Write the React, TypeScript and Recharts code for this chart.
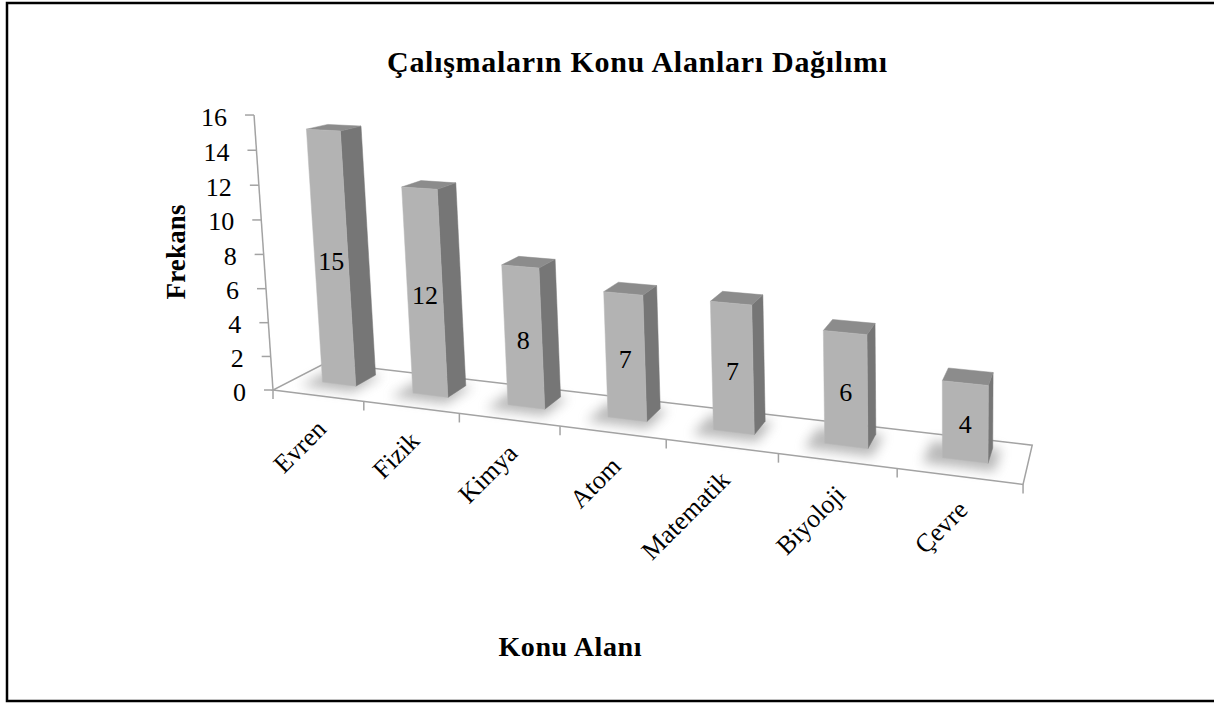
import React from 'react';
import { BarChart, Bar, XAxis, YAxis } from 'recharts';

const categories = ['Evren', 'Fizik', 'Kimya', 'Atom', 'Matematik', 'Biyoloji', 'Çevre'];
const frequencies = [15, 12, 8, 7, 7, 6, 4];
const valueTicks = [0, 2, 4, 6, 8, 10, 12, 14, 16];
const chartTitle = 'Çalışmaların Konu Alanları Dağılımı';
const xTitle = 'Konu Alanı';
const yTitle = 'Frekans';

const data = categories.map((name, i) => ({ name, value: frequencies[i] }));

const W = 1214;
const H = 704;
const PLOT = { left: 273, right: 1023, top: 115, bottom: 390 };
const Y_AXIS_W = 40;
const X_AXIS_H = 30;
const Y_MAX = 16;
const FONT = '"Liberation Serif", "Times New Roman", serif';
const LINE = '#a3a3a3';

// perspective projection of (u along categories 0..1, h value units, d depth 0..1)
const ORIGIN = [273, 390];
const KU = -0.1735, VPU = [-3300, -60];
const KH = -0.001716, VPH = [945, 10130];
const KD = 0.0643, VPD = [1150, -60];
function project(u: number, h: number, d: number): [number, number] {
  const den = 1 + KU * u + KH * h + KD * d;
  return [
    (ORIGIN[0] + KU * u * VPU[0] + KH * h * VPH[0] + KD * d * VPD[0]) / den,
    (ORIGIN[1] + KU * u * VPU[1] + KH * h * VPH[1] + KD * d * VPD[1]) / den,
  ];
}
const pts = (arr: [number, number][]) => arr.map((p) => `${p[0].toFixed(2)},${p[1].toFixed(2)}`).join(' ');

const D0 = 0.4;
const D1 = 0.8;

function Bar3D(props: any) {
  const { x, y, width, payload } = props;
  const plotW = PLOT.right - PLOT.left;
  const plotH = PLOT.bottom - PLOT.top;
  const u0 = (x - PLOT.left) / plotW;
  const u1 = (x + width - PLOT.left) / plotW;
  const h = ((PLOT.bottom - y) / plotH) * Y_MAX;
  const uc = (u0 + u1) / 2;
  const front = pts([project(u0, 0, D0), project(u1, 0, D0), project(u1, h, D0), project(u0, h, D0)]);
  const side = pts([project(u1, 0, D0), project(u1, 0, D1), project(u1, h, D1), project(u1, h, D0)]);
  const top = pts([project(u0, h, D0), project(u1, h, D0), project(u1, h, D1), project(u0, h, D1)]);
  const shadow = pts([
    project(u0 - 0.02, 0, D0 - 0.18),
    project(u1 + 0.01, 0, D0 - 0.18),
    project(u1 + 0.01, 0, D1),
    project(u0 - 0.02, 0, D1),
  ]);
  const [lx, ly] = project(uc, h / 2, D0);
  const val = payload && payload.value !== undefined ? payload.value : props.value;
  return (
    <g>
      <polygon points={shadow} fill="#808080" opacity={0.55} filter="url(#barShadow)" />
      <polygon points={side} fill="#767676" stroke="#767676" strokeWidth={0.5} />
      <polygon points={top} fill="#8c8c8c" stroke="#8c8c8c" strokeWidth={0.5} />
      <polygon points={front} fill="#b3b3b3" stroke="#b8b8b8" strokeWidth={0.5} />
      <text x={lx} y={ly + 3} textAnchor="middle" dominantBaseline="central" fontFamily={FONT} fontSize={26} fill="#000">
        {val}
      </text>
    </g>
  );
}

function ValueTick(props: any) {
  const v = props.payload ? props.payload.value : 0;
  const [x, y] = project(0, v, 0);
  return (
    <g>
      <line x1={x - 9} y1={y} x2={x} y2={y} stroke={LINE} strokeWidth={1.5} />
      <text x={x - 27} y={y + 2} textAnchor="end" dominantBaseline="central" fontFamily={FONT} fontSize={26} fill="#000">
        {v}
      </text>
    </g>
  );
}

function CategoryTick(props: any) {
  const plotW = PLOT.right - PLOT.left;
  const u = (props.x - PLOT.left) / plotW;
  const [px, py] = project(u, 0, 0);
  const ax = px + 10;
  const ay = py + 35;
  return (
    <text
      x={ax}
      y={ay}
      transform={`rotate(-45 ${ax} ${ay})`}
      textAnchor="end"
      fontFamily={FONT}
      fontSize={26}
      fill="#000"
    >
      {props.payload ? props.payload.value : ''}
    </text>
  );
}

function Floor() {
  const n = categories.length;
  const floor = pts([project(0, 0, 0), project(1, 0, 0), project(1, 0, 1), project(0, 0, 1)]);
  const axisBottom = project(0, 0, 0);
  const axisTop = project(0, Y_MAX, 0);
  const ticks = [];
  for (let k = 0; k <= n; k++) {
    const [tx, ty] = project(k / n, 0, 0);
    ticks.push(<line key={k} x1={tx} y1={ty} x2={tx} y2={ty + 9} stroke={LINE} strokeWidth={1.5} />);
  }
  return (
    <g>
      <defs>
        <filter id="barShadow" x="-60%" y="-60%" width="220%" height="220%">
          <feGaussianBlur stdDeviation="6" />
        </filter>
      </defs>
      <rect x={0} y={0} width={W} height={H} fill="#ffffff" />
      <rect x={7} y={3} width={W + 10} height={698} fill="none" stroke="#000" strokeWidth={2.5} />
      <text x={637} y={72} textAnchor="middle" fontFamily={FONT} fontWeight="bold" fontSize={30} textLength={500} lengthAdjust="spacing" fill="#000">
        {chartTitle}
      </text>
      <text x={570} y={656} textAnchor="middle" fontFamily={FONT} fontWeight="bold" fontSize={28} textLength={143} lengthAdjust="spacing" fill="#000">
        {xTitle}
      </text>
      <text
        x={185}
        y={252}
        transform="rotate(-90 185 252)"
        textAnchor="middle"
        fontFamily={FONT}
        fontWeight="bold"
        fontSize={27}
        textLength={95}
        lengthAdjust="spacing"
        fill="#000"
      >
        {yTitle}
      </text>
      <polygon points={floor} fill="#ffffff" stroke={LINE} strokeWidth={1.5} />
      {ticks}
      <line x1={axisBottom[0]} y1={axisBottom[1]} x2={axisTop[0]} y2={axisTop[1]} stroke={LINE} strokeWidth={1.5} />
    </g>
  );
}

export default function App() {
  return (
    <div style={{ position: 'absolute', left: 0, top: 0, width: W, height: H, background: '#fff' }}>
      <BarChart
        width={W}
        height={H}
        data={data}
        margin={{ top: PLOT.top, right: W - PLOT.right, bottom: H - PLOT.bottom - X_AXIS_H, left: PLOT.left - Y_AXIS_W }}
        barCategoryGap="31.5%"
      >
        <Floor />
        <XAxis dataKey="name" height={X_AXIS_H} axisLine={false} tickLine={false} interval={0} tick={CategoryTick} />
        <YAxis
          type="number"
          width={Y_AXIS_W}
          domain={[0, Y_MAX]}
          ticks={valueTicks}
          axisLine={false}
          tickLine={false}
          interval={0}
          tick={ValueTick}
        />
        <Bar dataKey="value" isAnimationActive={false} shape={Bar3D} />
      </BarChart>
    </div>
  );
}
